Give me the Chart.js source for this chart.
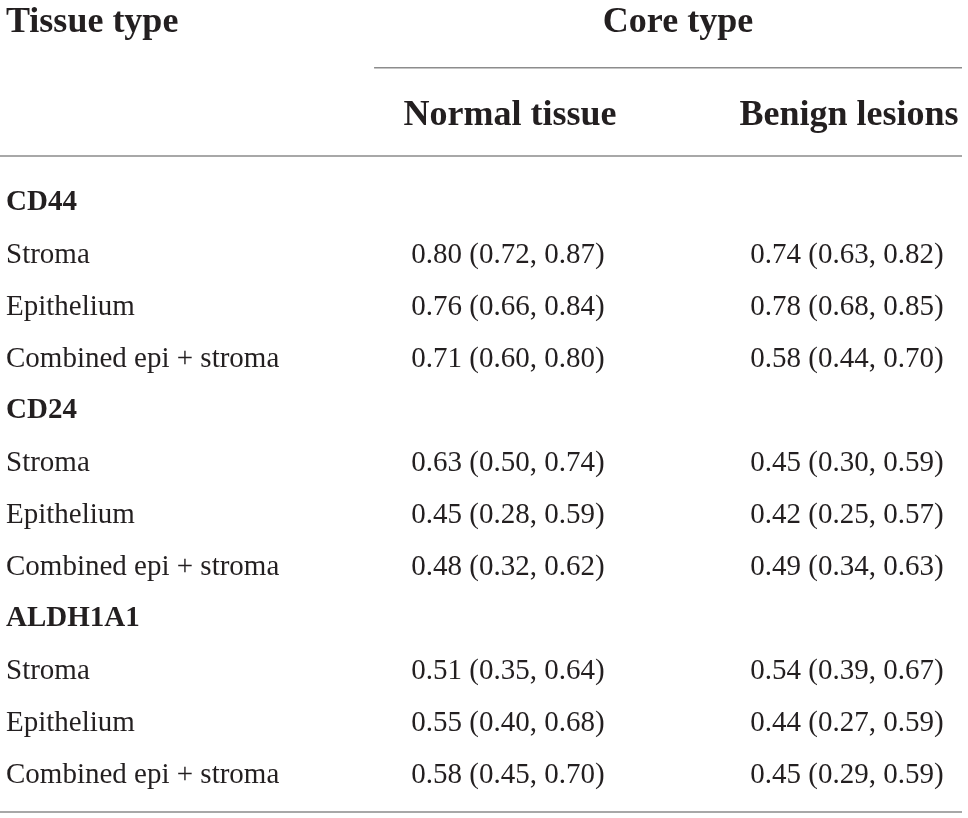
<!DOCTYPE html>
<html>
<head>
<meta charset="utf-8">
<script src="https://cdn.jsdelivr.net/npm/chart.js@4.4.0/dist/chart.umd.min.js"></script>
<style>
  html, body { margin: 0; padding: 0; background: #ffffff; }
  canvas { display: block; }
</style>
</head>
<body>
<canvas id="c" width="968" height="818"></canvas>
<script>
// ---- Table content ----
const headerLeft = 'Tissue type';
const headerSpan = 'Core type';
const columnLabels = ['Normal tissue', 'Benign lesions'];

const rowLabels = [
  'CD44', 'Stroma', 'Epithelium', 'Combined epi + stroma',
  'CD24', 'Stroma', 'Epithelium', 'Combined epi + stroma',
  'ALDH1A1', 'Stroma', 'Epithelium', 'Combined epi + stroma'
];
const groupLabels = ['CD44', 'CD24', 'ALDH1A1'];

const normalEst = [null, 0.80, 0.76, 0.71, null, 0.63, 0.45, 0.48, null, 0.51, 0.55, 0.58];
const normalLo  = [null, 0.72, 0.66, 0.60, null, 0.50, 0.28, 0.32, null, 0.35, 0.40, 0.45];
const normalHi  = [null, 0.87, 0.84, 0.80, null, 0.74, 0.59, 0.62, null, 0.64, 0.68, 0.70];

const benignEst = [null, 0.74, 0.78, 0.58, null, 0.45, 0.42, 0.49, null, 0.54, 0.44, 0.45];
const benignLo  = [null, 0.63, 0.68, 0.44, null, 0.30, 0.25, 0.34, null, 0.39, 0.27, 0.29];
const benignHi  = [null, 0.82, 0.85, 0.70, null, 0.59, 0.57, 0.63, null, 0.67, 0.59, 0.59];

// ---- Style ----
const TEXT = '#231f20';
const RULE = '#8c8c8c';
const SERIF = '"Liberation Serif", "Times New Roman", serif';
const DY = 3;

function fmt(v) { return v.toFixed(2); }

function cellPoints(est, col) {
  const pts = [];
  est.forEach((v, i) => { if (v !== null) pts.push({ x: col, y: i, row: i }); });
  return pts;
}

const series = [
  { est: normalEst, lo: normalLo, hi: normalHi },
  { est: benignEst, lo: benignLo, hi: benignHi }
];

const tablePlugin = {
  id: 'tablePlugin',
  beforeDraw(chart) {
    const ctx = chart.ctx;
    ctx.save();
    ctx.fillStyle = '#ffffff';
    ctx.fillRect(0, 0, chart.width, chart.height);
    ctx.restore();
  },
  afterDatasetsDraw(chart) {
    const ctx = chart.ctx;
    const area = chart.chartArea;
    const xs = chart.scales.x;
    const ys = chart.scales.y;
    const rowH = ys.getPixelForValue(1) - ys.getPixelForValue(0);
    const col1 = xs.getPixelForValue(1);
    const col2 = xs.getPixelForValue(2);
    const leftX = area.left + 6;
    const rightX = area.right - 6;

    ctx.save();
    ctx.fillStyle = TEXT;
    ctx.textBaseline = 'middle';

    // header rows
    const topRuleY = area.top - rowH * 2.042;
    const midRuleY = area.top - rowH * 0.346;
    const headY1 = area.top - rowH * 2.96 + DY;
    const headY2 = area.top - rowH * 1.175 + DY;
    ctx.font = 'bold 36px ' + SERIF;
    ctx.textAlign = 'left';
    ctx.fillText(headerLeft, leftX, headY1);
    ctx.textAlign = 'center';
    ctx.fillText(headerSpan, (col1 + col2) / 2 + 0.5, headY1);
    ctx.fillText(columnLabels[0], col1 + 2, headY2);
    ctx.fillText(columnLabels[1], col2 + 2, headY2);

    // rules
    ctx.strokeStyle = RULE;
    ctx.lineWidth = 1.5;
    ctx.beginPath();
    ctx.moveTo(xs.getPixelForValue(0.605), topRuleY);
    ctx.lineTo(rightX, topRuleY);
    ctx.moveTo(area.left, midRuleY);
    ctx.lineTo(rightX, midRuleY);
    ctx.moveTo(area.left, area.bottom + 14);
    ctx.lineTo(rightX, area.bottom + 14);
    ctx.stroke();

    // row labels
    ctx.textAlign = 'left';
    rowLabels.forEach((lab, i) => {
      const y = ys.getPixelForValue(i) + DY;
      ctx.font = (groupLabels.includes(lab) ? 'bold ' : '') + '29px ' + SERIF;
      ctx.fillText(lab, leftX, y);
    });

    // cells from dataset elements
    ctx.font = '29px ' + SERIF;
    ctx.textAlign = 'center';
    chart.data.datasets.forEach((ds, di) => {
      const meta = chart.getDatasetMeta(di);
      const s = series[di];
      meta.data.forEach((el, k) => {
        const idx = ds.data[k].row;
        const txt = fmt(s.est[idx]) + ' (' + fmt(s.lo[idx]) + ', ' + fmt(s.hi[idx]) + ')';
        ctx.fillText(txt, el.x, el.y + DY);
      });
    });
    ctx.restore();
  }
};

new Chart(document.getElementById('c'), {
  type: 'scatter',
  data: {
    datasets: [
      { label: columnLabels[0], data: cellPoints(normalEst, 1), pointRadius: 0 },
      { label: columnLabels[1], data: cellPoints(benignEst, 2), pointRadius: 0 }
    ]
  },
  options: {
    responsive: false,
    animation: false,
    events: [],
    layout: { padding: { top: 174, bottom: 20, left: 0, right: 0 } },
    plugins: { legend: { display: false }, tooltip: { enabled: false }, title: { display: false } },
    scales: {
      x: { type: 'linear', min: -0.4985, max: 2.357, display: false },
      y: { type: 'linear', min: -0.5, max: rowLabels.length - 0.5, reverse: true, display: false }
    }
  },
  plugins: [tablePlugin]
});
</script>
</body>
</html>
